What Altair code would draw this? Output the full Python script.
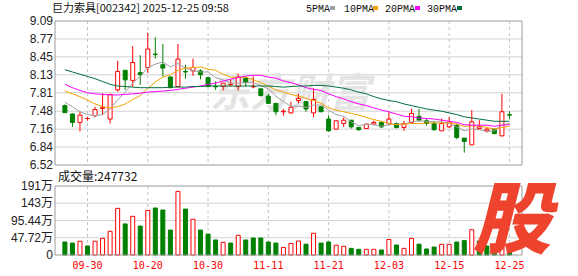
import altair as alt
import pandas as pd

# ---------------- data ----------------
dates = ["09-25", "09-26", "09-29", "09-30", "10-09", "10-10", "10-13", "10-14", "10-15", "10-16",
         "10-17", "10-20", "10-21", "10-22", "10-23", "10-24", "10-27", "10-28", "10-29", "10-30",
         "10-31", "11-03", "11-04", "11-05", "11-06", "11-07", "11-10", "11-11", "11-12", "11-13",
         "11-14", "11-17", "11-18", "11-19", "11-20", "11-21", "11-24", "11-25", "11-26", "11-27",
         "11-28", "12-01", "12-02", "12-03", "12-04", "12-05", "12-08", "12-09", "12-10", "12-11",
         "12-12", "12-15", "12-16", "12-17", "12-18", "12-19", "12-22", "12-23", "12-24", "12-25"]

opens = [7.58, 7.43, 7.28, 7.35, 7.40, 7.53, 7.34, 7.86, 8.21, 8.03,
         8.17, 8.26, 8.50, 8.31, 8.09, 7.92, 8.19, 8.20, 8.20, 8.08,
         7.925, 7.92, 7.955, 7.92, 8.07, 7.915, 7.88, 7.75, 7.62, 7.47,
         7.45, 7.67, 7.65, 7.45, 7.56, 7.34, 7.16, 7.26, 7.32, 7.19,
         7.17, 7.25, 7.28, 7.26, 7.26, 7.19, 7.28, 7.39, 7.31, 7.26,
         7.13, 7.20, 7.23, 7.00, 6.88, 7.17, 7.13, 7.16, 7.04, 7.42]
highs = [7.60, 7.44, 7.47, 7.38, 7.56, 7.80, 7.79, 8.38, 8.21, 8.64,
         8.48, 8.88, 8.80, 8.68, 8.10, 8.68, 8.31, 8.42, 8.23, 8.08,
         8.01, 7.98, 8.04, 8.15, 8.10, 8.10, 7.88, 7.79, 7.62, 7.52,
         7.65, 7.79, 7.66, 7.89, 7.56, 7.41, 7.31, 7.37, 7.32, 7.20,
         7.25, 7.31, 7.28, 7.46, 7.28, 7.31, 7.52, 7.52, 7.35, 7.31,
         7.35, 7.38, 7.26, 7.00, 7.50, 7.32, 7.18, 7.17, 7.79, 7.48]
lows = [7.45, 7.20, 7.12, 7.31, 7.37, 7.41, 7.26, 7.83, 7.86, 7.92,
        7.95, 8.16, 8.42, 8.10, 7.89, 7.92, 8.06, 8.11, 8.05, 7.91,
        7.86, 7.85, 7.92, 7.85, 7.92, 7.89, 7.74, 7.61, 7.41, 7.40,
        7.44, 7.62, 7.47, 7.37, 7.47, 7.11, 7.15, 7.20, 7.17, 7.13,
        7.17, 7.23, 7.18, 7.23, 7.17, 7.13, 7.26, 7.29, 7.22, 7.13,
        7.13, 7.18, 6.98, 6.74, 6.88, 7.16, 7.10, 7.07, 7.03, 7.34]
closes = [7.454, 7.28, 7.41, 7.35, 7.51, 7.55, 7.78, 8.19, 8.04, 8.35,
          8.13, 8.59, 8.49, 8.25, 7.90, 8.41, 8.18, 8.26, 8.13, 7.92,
          7.915, 7.98, 7.96, 8.09, 7.99, 7.92, 7.76, 7.62, 7.47, 7.48,
          7.55, 7.71, 7.52, 7.69, 7.47, 7.13, 7.31, 7.32, 7.20, 7.15,
          7.25, 7.28, 7.20, 7.34, 7.19, 7.26, 7.44, 7.32, 7.26, 7.15,
          7.26, 7.29, 7.01, 6.94, 7.29, 7.20, 7.16, 7.08, 7.47, 7.41]
volumes = [36, 33, 38, 25, 38, 46, 65.5, 129, 86, 107,
           80, 123.5, 130, 124.5, 69, 176, 127, 98.7, 69, 58,
           41.5, 35, 33, 54.4, 41.5, 47, 47, 36, 33, 21,
           32, 38.6, 30, 60, 33, 36, 27, 24, 18.4, 15.7,
           15.7, 15.7, 13.8, 43, 27.7, 18.4, 46, 30, 16.6, 22,
           29.5, 29.5, 36, 40, 70, 38.7, 25, 25, 98.7, 24.77]  # 万
ma5 = [7.64, 7.56, 7.47, 7.42, 7.40, 7.42, 7.52, 7.68, 7.82, 7.98,
       8.10, 8.26, 8.32, 8.36, 8.27, 8.33, 8.25, 8.20, 8.18, 8.18,
       8.08, 8.04, 7.98, 7.98, 7.99, 7.99, 7.94, 7.88, 7.75, 7.65,
       7.57, 7.57, 7.55, 7.59, 7.59, 7.50, 7.42, 7.39, 7.29, 7.22,
       7.25, 7.24, 7.21, 7.24, 7.25, 7.25, 7.29, 7.31, 7.30, 7.29,
       7.29, 7.26, 7.20, 7.13, 7.16, 7.15, 7.12, 7.13, 7.24, 7.26]
ma10 = [7.84, 7.79, 7.74, 7.68, 7.61, 7.56, 7.54, 7.56, 7.61, 7.69,
        7.76, 7.89, 8.00, 8.09, 8.13, 8.21, 8.25, 8.26, 8.27, 8.23,
        8.21, 8.14, 8.09, 8.08, 8.09, 8.04, 7.99, 7.93, 7.86, 7.82,
        7.78, 7.75, 7.71, 7.67, 7.62, 7.54, 7.50, 7.47, 7.44, 7.41,
        7.37, 7.33, 7.30, 7.26, 7.24, 7.25, 7.26, 7.26, 7.27, 7.27,
        7.27, 7.27, 7.25, 7.21, 7.22, 7.22, 7.19, 7.16, 7.19, 7.21]
ma20 = [7.96, 7.90, 7.85, 7.81, 7.79, 7.78, 7.77, 7.77, 7.78, 7.79,
        7.80, 7.82, 7.83, 7.84, 7.85, 7.87, 7.89, 7.91, 7.93, 7.96,
        7.98, 8.02, 8.05, 8.08, 8.11, 8.12, 8.12, 8.09, 8.07, 8.02,
        7.99, 7.95, 7.90, 7.87, 7.85, 7.79, 7.74, 7.70, 7.65, 7.61,
        7.58, 7.54, 7.50, 7.47, 7.43, 7.39, 7.38, 7.36, 7.35, 7.34,
        7.32, 7.30, 7.28, 7.24, 7.23, 7.23, 7.23, 7.21, 7.23, 7.24]
ma30 = [8.22, 8.18, 8.14, 8.10, 8.06, 8.01, 7.96, 7.93, 7.92, 7.91,
        7.90, 7.90, 7.90, 7.90, 7.91, 7.91, 7.91, 7.92, 7.92, 7.93,
        7.93, 7.93, 7.93, 7.93, 7.93, 7.93, 7.93, 7.93, 7.92, 7.91,
        7.92, 7.93, 7.93, 7.94, 7.94, 7.93, 7.91, 7.89, 7.86, 7.82,
        7.79, 7.74, 7.70, 7.67, 7.65, 7.61, 7.58, 7.55, 7.52, 7.50,
        7.48, 7.45, 7.42, 7.38, 7.36, 7.34, 7.32, 7.30, 7.30, 7.30]

price_ticks = [9.09, 8.77, 8.45, 8.13, 7.81, 7.48, 7.16, 6.84, 6.52]
vol_ticks = [190.88, 143.16, 95.44, 47.72, 0.0]
vol_tick_labels = ["191万", "143万", "95.44万", "47.72万", "0"]
date_ticks = ["09-30", "10-20", "10-30", "11-11", "11-21", "12-03", "12-15", "12-25"]
stock_title = "巨力索具[002342] 2025-12-25 09:58"
volume_title = "成交量:247732"
ma_names = ["5PMA", "10PMA", "20PMA", "30PMA"]
watermark = "东方财富"
logo = "股"

# ---------------- styling / layout ----------------
RED = "#ff0000"
GREEN = "#008000"
MA_COLORS = ["#a0a0a0", "#f5a300", "#ff00ff", "#00703c"]
GRID = "#d2d2d2"
FRAME = "#9a9a9a"
W, H = 467, 234
PRICE_H = 144
VOL_TOP = 165
NUM_FONT = "Liberation Sans, Noto Sans CJK SC"
CJK_FONT = "Noto Sans CJK SC"

n = len(dates)
df = pd.DataFrame({"i": list(range(n)), "date": dates, "open": opens, "high": highs,
                   "low": lows, "close": closes, "vol": volumes,
                   "ma5": ma5, "ma10": ma10, "ma20": ma20, "ma30": ma30})
df["up"] = df["close"] >= df["open"]
prev = df["close"].shift(1)
df["vup"] = (df["close"] >= prev).fillna(False)
df["body_lo"] = df[["open", "close"]].min(axis=1)
df["body_hi"] = df[["open", "close"]].max(axis=1)

xs = alt.Scale(domain=[-0.65, 60.0], nice=False, zero=False)
ps = alt.Scale(domain=[6.52, 9.09], range=[PRICE_H, 0], nice=False, zero=False)
vs = alt.Scale(domain=[0, 190.88], range=[H, VOL_TOP], nice=False, zero=False)
X = alt.X("i:Q", scale=xs, axis=None)

one = pd.DataFrame({"k": [0]})
layers = []

# horizontal grid lines
layers.append(alt.Chart(pd.DataFrame({"v": price_ticks[1:-1]})).mark_rule(color=GRID, strokeWidth=1).encode(
    y=alt.Y("v:Q", scale=ps, axis=None), x=alt.value(0), x2=alt.value(W)))
layers.append(alt.Chart(pd.DataFrame({"v": vol_ticks[1:-1]})).mark_rule(color=GRID, strokeWidth=1).encode(
    y=alt.Y("v:Q", scale=vs, axis=None), x=alt.value(0), x2=alt.value(W)))

# vertical dashed grid lines at date ticks
tick_df = pd.DataFrame({"i": [dates.index(d) for d in date_ticks], "label": date_ticks})
layers.append(alt.Chart(tick_df).mark_rule(color="#c4c4c4", strokeDash=[3, 3], strokeWidth=1).encode(
    x=X, y=alt.value(0), y2=alt.value(PRICE_H)))
layers.append(alt.Chart(tick_df).mark_rule(color="#c4c4c4", strokeDash=[3, 3], strokeWidth=1).encode(
    x=X, y=alt.value(VOL_TOP), y2=alt.value(H)))

# watermark
layers.append(alt.Chart(one).mark_text(font=CJK_FONT, fontSize=40, fontWeight="bold", fontStyle="italic",
                                       color="#e4e4e4", align="center", baseline="middle").encode(
    x=alt.value(235), y=alt.value(74), text=alt.value(watermark)))

# candle wicks
layers.append(alt.Chart(df).transform_filter("datum.up").mark_rule(color=RED, strokeWidth=1).encode(
    x=X, y=alt.Y("low:Q", scale=ps, axis=None), y2="high:Q"))
layers.append(alt.Chart(df).transform_filter("!datum.up").mark_rule(color=GREEN, strokeWidth=1).encode(
    x=X, y=alt.Y("low:Q", scale=ps, axis=None), y2="high:Q"))
# candle bodies
layers.append(alt.Chart(df).transform_filter("datum.up").mark_bar(
    size=4, fill="white", stroke=RED, strokeWidth=1).encode(
    x=X, y=alt.Y("body_lo:Q", scale=ps, axis=None), y2="body_hi:Q"))
layers.append(alt.Chart(df).transform_filter("!datum.up").mark_bar(
    size=4, fill=GREEN, stroke=GREEN, strokeWidth=1).encode(
    x=X, y=alt.Y("body_lo:Q", scale=ps, axis=None), y2="body_hi:Q"))

# moving averages
for col, c in zip(["ma5", "ma10", "ma20", "ma30"], MA_COLORS):
    layers.append(alt.Chart(df).mark_line(color=c, strokeWidth=1).encode(
        x=X, y=alt.Y(f"{col}:Q", scale=ps, axis=None)))

# volume bars
layers.append(alt.Chart(df).transform_filter("datum.vup").mark_bar(
    size=4, fill="white", stroke=RED, strokeWidth=1).encode(
    x=X, y=alt.Y("vol:Q", scale=vs, axis=None), y2=alt.datum(0)))
layers.append(alt.Chart(df).transform_filter("!datum.vup").mark_bar(
    size=4, fill=GREEN, stroke=GREEN, strokeWidth=1).encode(
    x=X, y=alt.Y("vol:Q", scale=vs, axis=None), y2=alt.datum(0)))

# panel frames
layers.append(alt.Chart(one).mark_rect(fill=None, stroke=FRAME, strokeWidth=1).encode(
    x=alt.value(0), x2=alt.value(W), y=alt.value(0), y2=alt.value(PRICE_H)))
layers.append(alt.Chart(one).mark_rect(fill=None, stroke=FRAME, strokeWidth=1).encode(
    x=alt.value(0), x2=alt.value(W), y=alt.value(VOL_TOP), y2=alt.value(H)))

# axis labels
plab = pd.DataFrame({"v": price_ticks, "t": [f"{v:.2f}" for v in price_ticks]})
layers.append(alt.Chart(plab).mark_text(font=NUM_FONT, fontSize=12, color="#222", align="right",
                                        baseline="middle").encode(
    x=alt.value(-2), y=alt.Y("v:Q", scale=ps, axis=None), text="t:N"))
vlab = pd.DataFrame({"v": vol_ticks, "t": vol_tick_labels})
layers.append(alt.Chart(vlab).mark_text(font=NUM_FONT, fontSize=12, color="#222", align="right",
                                        baseline="middle").encode(
    x=alt.value(-2), y=alt.Y("v:Q", scale=vs, axis=None), text="t:N"))
layers.append(alt.Chart(tick_df).mark_text(font="DejaVu Sans Mono", fontSize=10, color=RED, align="center",
                                           baseline="middle").encode(
    x=X, y=alt.value(245), text="label:N"))

# header, volume title
layers.append(alt.Chart(pd.DataFrame({"t": [stock_title]})).mark_text(
    font=CJK_FONT, fontSize=11, color="#111", align="left", baseline="middle").encode(
    x=alt.value(-3), y=alt.value(-12), text="t:N"))
layers.append(alt.Chart(pd.DataFrame({"t": [volume_title]})).mark_text(
    font=CJK_FONT, fontSize=12, color="#111", align="left", baseline="middle").encode(
    x=alt.value(3), y=alt.value(156), text="t:N"))

# legend
leg_text_x = [251, 289, 330, 372]
leg_sq_x = [275, 318, 360, 402]
for name, c, tx, sx in zip(ma_names, MA_COLORS, leg_text_x, leg_sq_x):
    layers.append(alt.Chart(pd.DataFrame({"t": [name]})).mark_text(
        font="Liberation Mono", fontSize=10, color="#111", align="left", baseline="middle").encode(
        x=alt.value(tx), y=alt.value(-12), text="t:N"))
    layers.append(alt.Chart(one).mark_rect(fill=c).encode(
        x=alt.value(sx), x2=alt.value(sx + 5), y=alt.value(-15), y2=alt.value(-11)))

# corner logo
layers.append(alt.Chart(pd.DataFrame({"t": [logo]})).mark_text(
    font=CJK_FONT, fontSize=78, fontWeight=900, fontStyle="italic", color="#ee442e",
    align="center", baseline="middle").encode(
    x=alt.value(457), y=alt.value(203), text="t:N"))

chart = alt.layer(*layers).resolve_scale(y="independent").properties(
    width=W, height=H,
    padding={"left": 55, "top": 21, "right": 56, "bottom": 21},
    autosize=alt.AutoSizeParams(type="none"),
    background="white",
).configure_view(strokeWidth=0)

chart.save("out.html", embed_options={"renderer": "svg", "actions": False})
